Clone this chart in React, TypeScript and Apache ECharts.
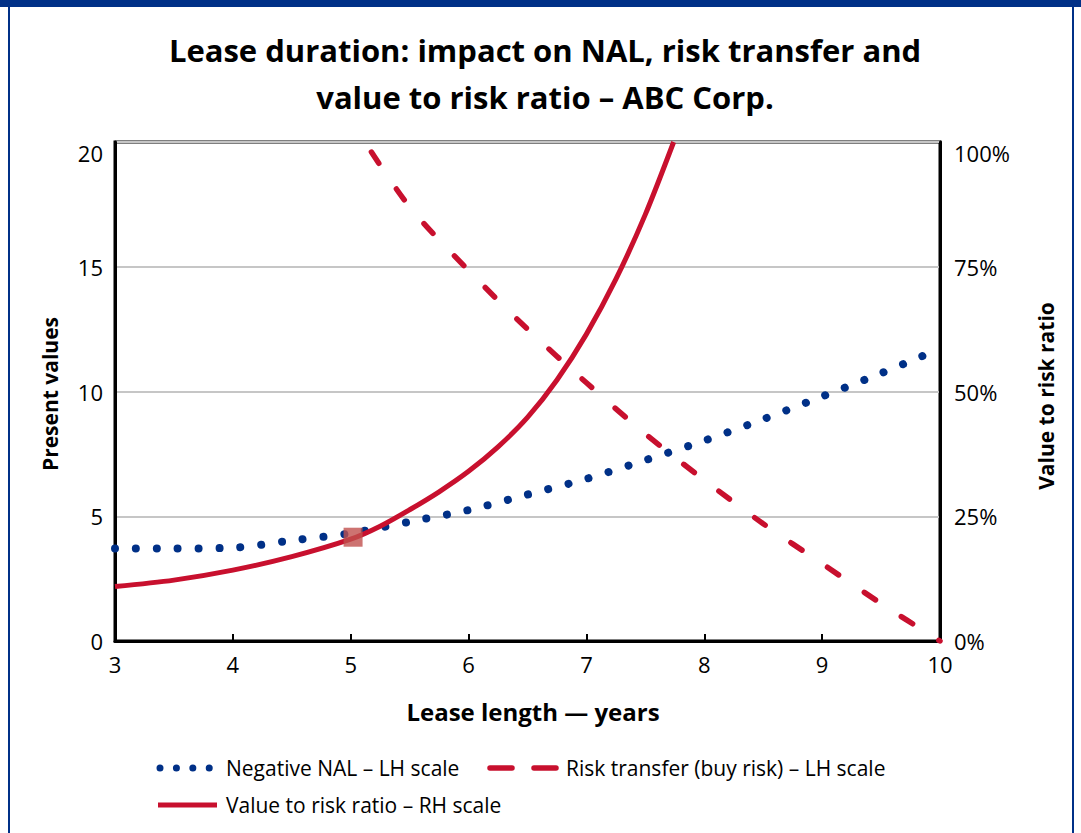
import React, { useEffect, useRef } from "react";
import * as echarts from "echarts";

const titleLines = ["Lease duration: impact on NAL, risk transfer and", "value to risk ratio – ABC Corp."];
const xAxisTitle = "Lease length — years";
const leftAxisTitle = "Present values";
const rightAxisTitle = "Value to risk ratio";
const seriesNames = ["Negative NAL – LH scale", "Risk transfer (buy risk) – LH scale", "Value to risk ratio – RH scale"];

const nalX = [3, 3.5, 4, 4.5, 5, 5.5, 6, 6.5, 7, 7.5, 8, 8.5, 9, 9.5, 9.9];
const nalY = [3.71, 3.71, 3.74, 4.03, 4.32, 4.78, 5.25, 5.87, 6.5, 7.25, 8.03, 8.89, 9.8, 10.73, 11.52];

const riskX = [5.12, 5.5, 6, 6.5, 7, 7.5, 8, 8.5, 9, 9.5, 10];
const riskY = [20, 17.4, 14.85, 12.5, 10.35, 8.3, 6.45, 4.7, 3.1, 1.5, 0];

const ratioX = [3, 3.5, 4, 4.5, 5, 5.25, 5.5, 5.75, 6, 6.25, 6.5, 6.75, 7, 7.25, 7.5, 7.74];
const ratioY = [10.9, 12.2, 14.2, 16.9, 20.4, 23.0, 26.3, 29.9, 34.0, 38.9, 44.8, 52.3, 61.5, 72.5, 85.5, 100];

const markerX = [5.02];
const markerY = [20.8];

const BLUE = "#003087";
const RED = "#C8102E";
const FONT = "Open Sans";

const zip = (xs: number[], ys: number[]) => xs.map((x, i) => [x, ys[i]]);

export default function App() {
  const ref = useRef<HTMLDivElement>(null);
  useEffect(() => {
    if (!ref.current) return;
    const chart = echarts.init(ref.current, null, { renderer: "svg" });
    const legendTextStyle = { fill: "#000", font: `21px ${FONT}`, textVerticalAlign: "middle" };
    chart.setOption({
      animation: false,
      backgroundColor: "#fff",
      grid: { left: 115, right: 141, top: 142, bottom: 192, show: true, borderColor: "#000", borderWidth: 3, outerBoundsMode: "none" },
      xAxis: {
        type: "value",
        min: 3,
        max: 10,
        interval: 1,
        axisLine: { show: true, onZero: false, lineStyle: { color: "#000", width: 3 } },
        axisTick: { show: true, inside: true, length: 7, lineStyle: { color: "#000", width: 2 } },
        axisLabel: { fontSize: 22, color: "#000", fontFamily: FONT, margin: 12 },
        splitLine: { show: false },
      },
      yAxis: [
        {
          type: "value",
          min: 0,
          max: 20,
          interval: 5,
          axisLine: { show: true, lineStyle: { color: "#000", width: 3 } },
          axisTick: { show: false },
          axisLabel: { fontSize: 22, color: "#000", fontFamily: FONT, margin: 12, verticalAlignMaxLabel: "top" },
          splitLine: { show: true, lineStyle: { color: "#C6C6C6", width: 2 } },
        },
        {
          type: "value",
          position: "right",
          min: 0,
          max: 100,
          interval: 25,
          axisLine: { show: true, lineStyle: { color: "#000", width: 3 } },
          axisTick: { show: false },
          axisLabel: { fontSize: 22, color: "#000", fontFamily: FONT, margin: 14, formatter: "{value}%", verticalAlignMaxLabel: "top" },
          splitLine: { show: false },
        },
      ],
      series: [
        {
          name: seriesNames[0],
          type: "line",
          yAxisIndex: 0,
          data: zip(nalX, nalY),
          symbol: "none",
          smooth: 0.3,
          lineStyle: { color: BLUE, width: 8, type: [0.01, 20.9], cap: "round" },
          z: 3,
        },
        {
          name: seriesNames[1],
          type: "line",
          yAxisIndex: 0,
          data: zip(riskX, riskY),
          symbol: "none",
          smooth: 0.3,
          lineStyle: { color: RED, width: 5.5, type: [13.3, 31], dashOffset: 32, cap: "round" },
          z: 3,
        },
        {
          name: seriesNames[2],
          type: "line",
          yAxisIndex: 1,
          data: zip(ratioX, ratioY),
          symbol: "none",
          smooth: 0.3,
          lineStyle: { color: RED, width: 5 },
          z: 4,
        },
        {
          type: "scatter",
          yAxisIndex: 1,
          data: zip(markerX, markerY),
          symbol: "rect",
          symbolSize: 19,
          itemStyle: { color: "#C0504D" },
          z: 6,
        },
      ],
      graphic: [
        { type: "rect", shape: { x: 0, y: 0, width: 1081, height: 7 }, style: { fill: BLUE }, z: 10 },
        { type: "rect", shape: { x: 8, y: 0, width: 2, height: 833 }, style: { fill: BLUE }, z: 10 },
        { type: "rect", shape: { x: 1072, y: 0, width: 2, height: 833 }, style: { fill: BLUE }, z: 10 },
        { type: "text", x: 545, y: 50, style: { text: titleLines[0], fill: "#000", font: `bold 31px ${FONT}`, textAlign: "center", textVerticalAlign: "middle" } },
        { type: "text", x: 545, y: 97, style: { text: titleLines[1], fill: "#000", font: `bold 31px ${FONT}`, textAlign: "center", textVerticalAlign: "middle" } },
        { type: "text", x: 533, y: 711, style: { text: xAxisTitle, fill: "#000", font: `bold 24px ${FONT}`, textAlign: "center", textVerticalAlign: "middle" } },
        { type: "text", x: 50, y: 394, rotation: Math.PI / 2, style: { text: leftAxisTitle, fill: "#000", font: `bold 21px ${FONT}`, textAlign: "center", textVerticalAlign: "middle" } },
        { type: "text", x: 1046, y: 396, rotation: Math.PI / 2, style: { text: rightAxisTitle, fill: "#000", font: `bold 21px ${FONT}`, textAlign: "center", textVerticalAlign: "middle" } },
        { type: "line", shape: { x1: 160, y1: 768, x2: 215, y2: 768 }, style: { stroke: BLUE, lineWidth: 7, lineDash: [0.01, 16.4], lineCap: "round" } },
        { type: "text", x: 226, y: 768, style: { ...legendTextStyle, text: seriesNames[0] } },
        { type: "line", shape: { x1: 490, y1: 768, x2: 556, y2: 768 }, style: { stroke: RED, lineWidth: 5.5, lineDash: [22, 22], lineCap: "round" } },
        { type: "text", x: 566, y: 768, style: { ...legendTextStyle, text: seriesNames[1] } },
        { type: "line", shape: { x1: 158, y1: 805, x2: 217, y2: 805 }, style: { stroke: RED, lineWidth: 5 } },
        { type: "text", x: 226, y: 805, style: { ...legendTextStyle, text: seriesNames[2] } },
      ],
    });
    return () => chart.dispose();
  }, []);
  return <div ref={ref} style={{ position: "absolute", left: 0, top: 0, width: 1081, height: 833 }} />;
}
